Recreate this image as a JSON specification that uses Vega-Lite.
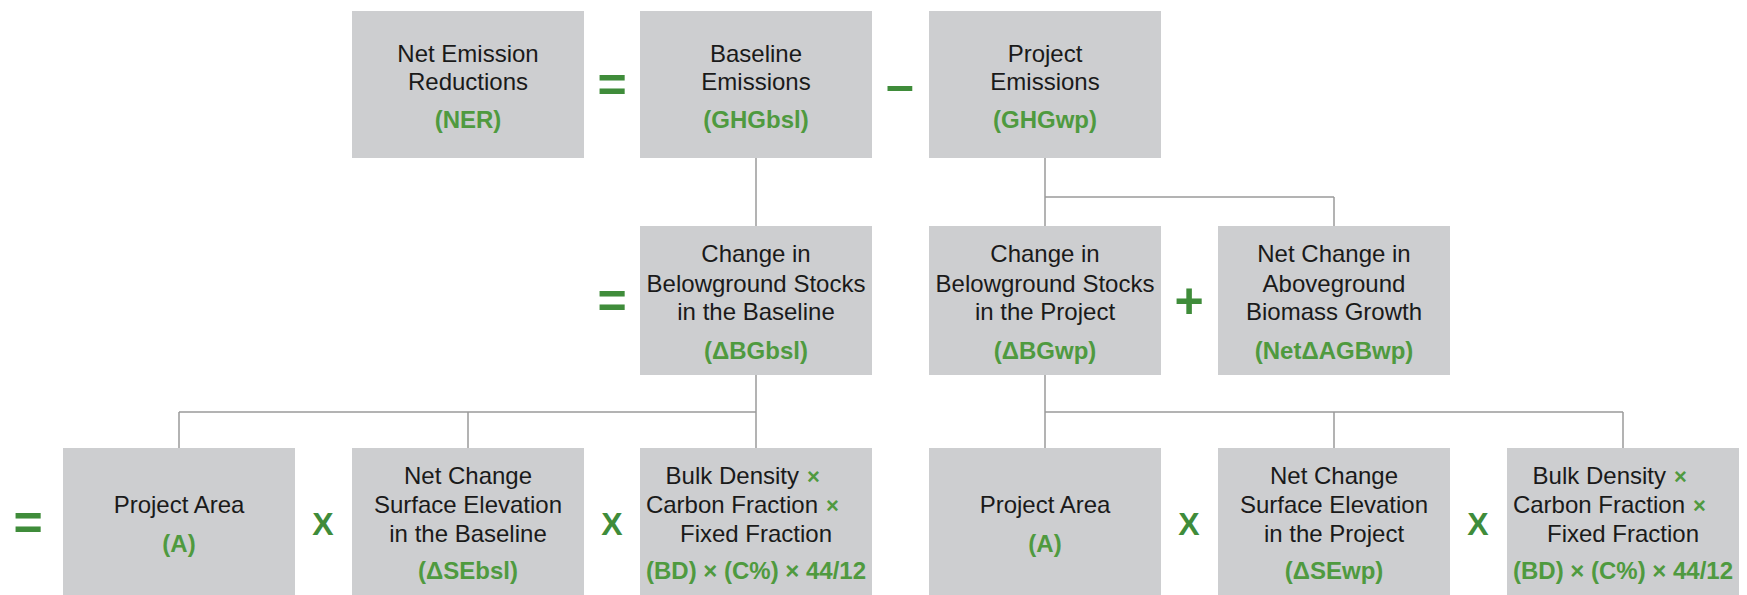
{
  "$schema": "https://vega.github.io/schema/vega-lite/v6.json",
  "width": 1747,
  "height": 595,
  "autosize": {"type": "fit", "contains": "padding"},
  "padding": 0,
  "background": "white",
  "config": {"view": {"stroke": null}, "axis": {"disable": true}},
  "datasets": {
    "boxes": [
      {"id": "NER", "x": 352, "x2": 584, "y": 11, "y2": 158},
      {"id": "GHGbsl", "x": 640, "x2": 872, "y": 11, "y2": 158},
      {"id": "GHGwp", "x": 929, "x2": 1161, "y": 11, "y2": 158},
      {"id": "BGbsl", "x": 640, "x2": 872, "y": 226, "y2": 375},
      {"id": "BGwp", "x": 929, "x2": 1161, "y": 226, "y2": 375},
      {"id": "AGBwp", "x": 1218, "x2": 1450, "y": 226, "y2": 375},
      {"id": "A1", "x": 63, "x2": 295, "y": 448, "y2": 597},
      {"id": "SEbsl", "x": 352, "x2": 584, "y": 448, "y2": 597},
      {"id": "BD1", "x": 640, "x2": 872, "y": 448, "y2": 597},
      {"id": "A2", "x": 929, "x2": 1161, "y": 448, "y2": 597},
      {"id": "SEwp", "x": 1218, "x2": 1450, "y": 448, "y2": 597},
      {"id": "BD2", "x": 1507, "x2": 1739, "y": 448, "y2": 597}
    ],
    "links": [
      {"x": 756, "y": 158, "x2": 756, "y2": 226},
      {"x": 1045, "y": 158, "x2": 1045, "y2": 226},
      {"x": 1045, "y": 197, "x2": 1334, "y2": 197},
      {"x": 1334, "y": 197, "x2": 1334, "y2": 226},
      {"x": 756, "y": 375, "x2": 756, "y2": 448},
      {"x": 179, "y": 412, "x2": 756, "y2": 412},
      {"x": 179, "y": 412, "x2": 179, "y2": 448},
      {"x": 468, "y": 412, "x2": 468, "y2": 448},
      {"x": 1045, "y": 375, "x2": 1045, "y2": 448},
      {"x": 1045, "y": 412, "x2": 1623, "y2": 412},
      {"x": 1334, "y": 412, "x2": 1334, "y2": 448},
      {"x": 1623, "y": 412, "x2": 1623, "y2": 448}
    ],
    "labels": [
      {"t": "Net Emission", "x": 468, "y": 55, "role": "name"},
      {"t": "Reductions", "x": 468, "y": 83, "role": "name"},
      {"t": "(NER)", "x": 468, "y": 121, "role": "code"},
      {"t": "Baseline", "x": 756, "y": 55, "role": "name"},
      {"t": "Emissions", "x": 756, "y": 83, "role": "name"},
      {"t": "(GHGbsl)", "x": 756, "y": 121, "role": "code"},
      {"t": "Project", "x": 1045, "y": 55, "role": "name"},
      {"t": "Emissions", "x": 1045, "y": 83, "role": "name"},
      {"t": "(GHGwp)", "x": 1045, "y": 121, "role": "code"},
      {"t": "=", "x": 612, "y": 87, "role": "op"},
      {"t": "–", "x": 900, "y": 87, "role": "op"},

      {"t": "Change in", "x": 756, "y": 255, "role": "name"},
      {"t": "Belowground Stocks", "x": 756, "y": 285, "role": "name"},
      {"t": "in the Baseline", "x": 756, "y": 313, "role": "name"},
      {"t": "(ΔBGbsl)", "x": 756, "y": 352, "role": "code"},
      {"t": "Change in", "x": 1045, "y": 255, "role": "name"},
      {"t": "Belowground Stocks", "x": 1045, "y": 285, "role": "name"},
      {"t": "in the Project", "x": 1045, "y": 313, "role": "name"},
      {"t": "(ΔBGwp)", "x": 1045, "y": 352, "role": "code"},
      {"t": "Net Change in", "x": 1334, "y": 255, "role": "name"},
      {"t": "Aboveground", "x": 1334, "y": 285, "role": "name"},
      {"t": "Biomass Growth", "x": 1334, "y": 313, "role": "name"},
      {"t": "(NetΔAGBwp)", "x": 1334, "y": 352, "role": "code"},
      {"t": "=", "x": 612, "y": 303, "role": "op"},
      {"t": "+", "x": 1189, "y": 303, "role": "op"},

      {"t": "Project Area", "x": 179, "y": 506, "role": "name"},
      {"t": "(A)", "x": 179, "y": 545, "role": "code"},
      {"t": "Net Change", "x": 468, "y": 477, "role": "name"},
      {"t": "Surface Elevation", "x": 468, "y": 506, "role": "name"},
      {"t": "in the Baseline", "x": 468, "y": 535, "role": "name"},
      {"t": "(ΔSEbsl)", "x": 468, "y": 572, "role": "code"},
      {"t": "Bulk Density", "x": 799, "y": 477, "role": "pre"},
      {"t": "×", "x": 807, "y": 477, "role": "mul"},
      {"t": "Carbon Fraction", "x": 818, "y": 506, "role": "pre"},
      {"t": "×", "x": 826, "y": 506, "role": "mul"},
      {"t": "Fixed Fraction", "x": 756, "y": 535, "role": "name"},
      {"t": "(BD) × (C%) × 44/12", "x": 756, "y": 572, "role": "code"},
      {"t": "Project Area", "x": 1045, "y": 506, "role": "name"},
      {"t": "(A)", "x": 1045, "y": 545, "role": "code"},
      {"t": "Net Change", "x": 1334, "y": 477, "role": "name"},
      {"t": "Surface Elevation", "x": 1334, "y": 506, "role": "name"},
      {"t": "in the Project", "x": 1334, "y": 535, "role": "name"},
      {"t": "(ΔSEwp)", "x": 1334, "y": 572, "role": "code"},
      {"t": "Bulk Density", "x": 1666, "y": 477, "role": "pre"},
      {"t": "×", "x": 1674, "y": 477, "role": "mul"},
      {"t": "Carbon Fraction", "x": 1685, "y": 506, "role": "pre"},
      {"t": "×", "x": 1693, "y": 506, "role": "mul"},
      {"t": "Fixed Fraction", "x": 1623, "y": 535, "role": "name"},
      {"t": "(BD) × (C%) × 44/12", "x": 1623, "y": 572, "role": "code"},
      {"t": "=", "x": 28, "y": 525, "role": "op"},
      {"t": "X", "x": 323, "y": 525, "role": "big"},
      {"t": "X", "x": 612, "y": 525, "role": "big"},
      {"t": "X", "x": 1189, "y": 525, "role": "big"},
      {"t": "X", "x": 1478, "y": 525, "role": "big"}
    ]
  },
  "encoding": {
    "x": {"field": "x", "type": "quantitative", "scale": {"domain": [0, 1747], "nice": false, "zero": false}, "axis": null},
    "y": {"field": "y", "type": "quantitative", "scale": {"domain": [0, 595], "nice": false, "zero": false, "reverse": true}, "axis": null}
  },
  "layer": [
    {
      "data": {"name": "boxes"},
      "mark": {"type": "rect", "color": "#cdced0", "clip": true},
      "encoding": {"x2": {"field": "x2"}, "y2": {"field": "y2"}}
    },
    {
      "data": {"name": "links"},
      "mark": {"type": "rule", "color": "#9a9a9a", "strokeWidth": 1.5},
      "encoding": {"x2": {"field": "x2"}, "y2": {"field": "y2"}}
    },
    {
      "data": {"name": "labels"},
      "transform": [{"filter": "datum.role === 'name'"}],
      "mark": {"type": "text", "font": "Liberation Sans", "fontSize": 24, "color": "#1a1a1a", "align": "center", "baseline": "middle"},
      "encoding": {"text": {"field": "t"}}
    },
    {
      "data": {"name": "labels"},
      "transform": [{"filter": "datum.role === 'pre'"}],
      "mark": {"type": "text", "font": "Liberation Sans", "fontSize": 24, "color": "#1a1a1a", "align": "right", "baseline": "middle"},
      "encoding": {"text": {"field": "t"}}
    },
    {
      "data": {"name": "labels"},
      "transform": [{"filter": "datum.role === 'code'"}],
      "mark": {"type": "text", "font": "Liberation Sans", "fontSize": 24, "fontWeight": "bold", "color": "#4f9a3f", "align": "center", "baseline": "middle"},
      "encoding": {"text": {"field": "t"}}
    },
    {
      "data": {"name": "labels"},
      "transform": [{"filter": "datum.role === 'mul'"}],
      "mark": {"type": "text", "font": "Liberation Sans", "fontSize": 22, "fontWeight": "bold", "color": "#4f9a3f", "align": "left", "baseline": "middle"},
      "encoding": {"text": {"field": "t"}}
    },
    {
      "data": {"name": "labels"},
      "transform": [{"filter": "datum.role === 'op'"}],
      "mark": {"type": "text", "font": "Liberation Sans", "fontSize": 50, "fontWeight": "bold", "color": "#3f8c3a", "align": "center", "baseline": "middle"},
      "encoding": {"text": {"field": "t"}}
    },
    {
      "data": {"name": "labels"},
      "transform": [{"filter": "datum.role === 'big'"}],
      "mark": {"type": "text", "font": "Liberation Sans", "fontSize": 32, "fontWeight": "bold", "color": "#3f8c3a", "align": "center", "baseline": "middle"},
      "encoding": {"text": {"field": "t"}}
    }
  ]
}
